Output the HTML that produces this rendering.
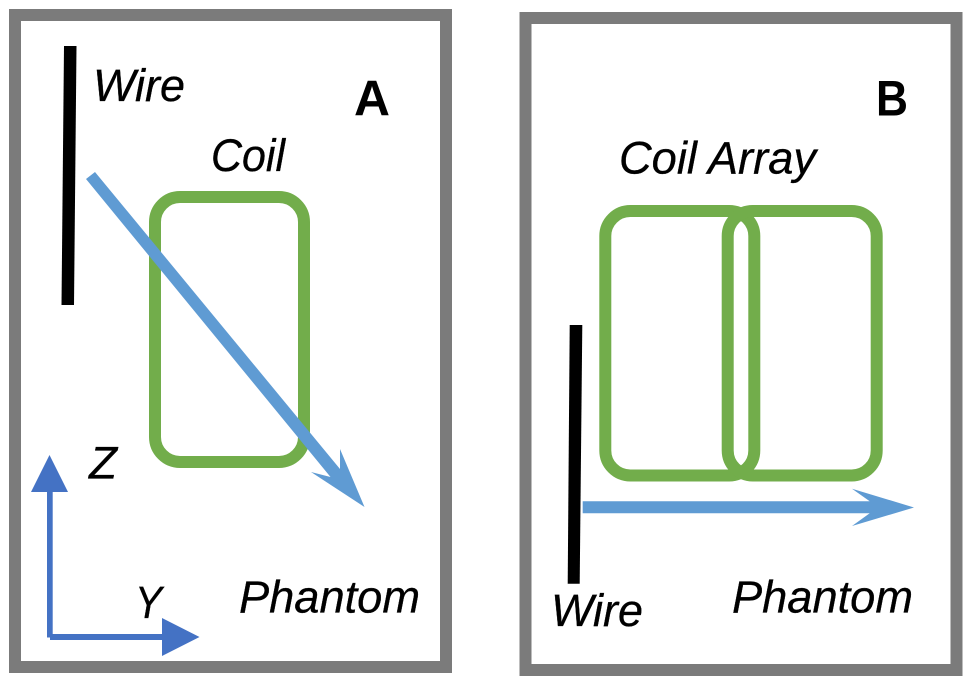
<!DOCTYPE html>
<html>
<head>
<meta charset="utf-8">
<style>
html,body{margin:0;padding:0;background:#fff;width:976px;height:684px;overflow:hidden}
svg{display:block}
text{font-family:"Liberation Sans",sans-serif;fill:#000}
.i{font-style:italic;font-size:45px;stroke:#000;stroke-width:.3px}
.b{font-weight:bold;font-size:50px}
</style>
</head>
<body>
<svg width="976" height="684" viewBox="0 0 976 684" xmlns="http://www.w3.org/2000/svg">
  <rect width="976" height="684" fill="#fff"/>

  <!-- Panel A -->
  <rect x="15" y="15" width="431" height="652" fill="#fff" stroke="#7b7b7b" stroke-width="12"/>
  <rect x="155" y="197" width="149" height="265" rx="25" ry="25" fill="none" stroke="#72ad4b" stroke-width="12"/>
  <polygon points="64,46 76.500,46 74,305 61.500,305" fill="#000"/>
  <polygon points="86,179 95,172 340,469 340,449 364.500,507 311,472 330.500,477" fill="#5f9bd3"/>

  <!-- Axes -->
  <polygon points="47,490 52.700,490 52.700,634 162,634 162,618 199.500,637 162,656 162,640 50,640 50,637.500 47,637.500" fill="#4472c4"/>
  <polygon points="49.500,455 68,492 31,492" fill="#4472c4"/>

  <text class="i" x="93" y="101" textLength="92" lengthAdjust="spacingAndGlyphs">Wire</text>
  <text class="i" x="211" y="171" textLength="74" lengthAdjust="spacingAndGlyphs">Coil</text>
  <text class="b" x="354" y="115.500" textLength="36" lengthAdjust="spacingAndGlyphs">A</text>
  <text class="i" x="89" y="478.500" textLength="28" lengthAdjust="spacingAndGlyphs">Z</text>
  <text class="i" x="135" y="618" textLength="27" lengthAdjust="spacingAndGlyphs">Y</text>
  <text class="i" x="239" y="612.500" textLength="181" lengthAdjust="spacingAndGlyphs">Phantom</text>

  <!-- Panel B -->
  <rect x="525.500" y="18" width="431" height="652" fill="#fff" stroke="#7b7b7b" stroke-width="12"/>
  <rect x="605.300" y="211" width="149" height="264.500" rx="25" ry="25" fill="none" stroke="#72ad4b" stroke-width="12"/>
  <rect x="727.700" y="211" width="149" height="264.500" rx="25" ry="25" fill="none" stroke="#72ad4b" stroke-width="12"/>
  <polygon points="569.700,325 582.300,325 579.700,583.700 567.700,583.700" fill="#000"/>
  <polygon points="582.700,501.300 869.700,501.300 852,488.700 914,507.500 852,526 869.700,513.300 582.700,513.300" fill="#5f9bd3"/>

  <text class="b" x="876" y="115.500" textLength="32" lengthAdjust="spacingAndGlyphs">B</text>
  <text class="i" x="619" y="173.500" textLength="197" lengthAdjust="spacingAndGlyphs">Coil Array</text>
  <text class="i" x="551" y="626" textLength="92" lengthAdjust="spacingAndGlyphs">Wire</text>
  <text class="i" x="732" y="612.500" textLength="181" lengthAdjust="spacingAndGlyphs">Phantom</text>
</svg>
</body>
</html>
